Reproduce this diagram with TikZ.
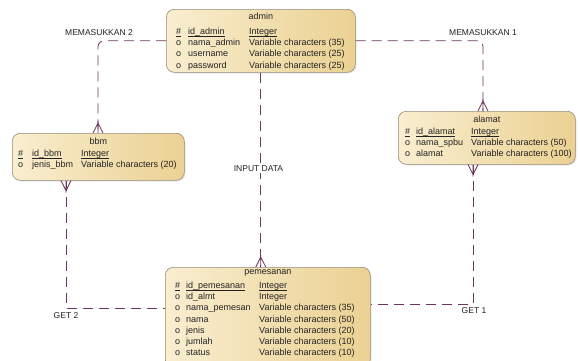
\documentclass[tikz,border=0pt]{standalone}
\usepackage{fontspec}
\setmainfont{Liberation Sans}
\usetikzlibrary{calc,shadows}
\definecolor{relc}{RGB}{110,55,95}
\definecolor{boxl}{RGB}{249,238,208}
\definecolor{boxr}{RGB}{235,209,146}
\definecolor{boxd}{RGB}{150,140,120}
\definecolor{txt}{RGB}{35,35,35}
\newcommand\crowN[1]{\draw[crowl] ($(#1)+(0,-10)$) -- ($(#1)+(-5,0)$) ($(#1)+(0,-10)$) -- ($(#1)+(5,0)$) ($(#1)+(0,-12)$) -- (#1);}
\newcommand\crowS[1]{\draw[crowl] ($(#1)+(0,10)$) -- ($(#1)+(-5,0)$) ($(#1)+(0,10)$) -- ($(#1)+(5,0)$) ($(#1)+(0,12)$) -- (#1);}
\newcommand\keyul[1]{\leavevmode\setbox0\hbox{#1}\rlap{\rule[-2.2pt]{\wd0}{0.55pt}}\box0}
\begin{document}
\begin{tikzpicture}[x=1pt,y=-1pt,
  erbox/.style={draw=boxd, line width=0.6pt, rounded corners=8pt, left color=boxl, right color=boxr,
    anchor=north west, inner sep=0pt, drop shadow={opacity=0.18, shadow xshift=1.2pt, shadow yshift=-1.2pt}},
  erttl/.style={inner sep=0pt, text=txt, font=\fontsize{9}{11}\selectfont},
  ertab/.style={anchor=north west, inner sep=0pt, text=txt, font=\fontsize{9}{11.2}\selectfont},
  rel/.style={draw=relc, line width=0.8pt, dash pattern=on 10pt off 6pt},
  crowl/.style={draw=relc, line width=0.8pt},
  lbl/.style={inner sep=1pt, text=txt, font=\fontsize{8.5}{10}\selectfont}]
\useasboundingbox (0,0) rectangle (580,360);
\fill[white] (0,0) rectangle (580,360);

% boxes
\node[erbox, minimum width=189pt, minimum height=63pt] (admin) at (166,9) {};
\node[erbox, minimum width=172pt, minimum height=47pt] (bbm) at (12,133) {};
\node[erbox, minimum width=177pt, minimum height=53pt] (alamat) at (398,111) {};
\node[erbox, minimum width=205pt, minimum height=100pt] (pemesanan) at (165,267) {};

% titles
\node[erttl] (adminT) at ($(admin.north)+(0,7)$) {admin};
\node[erttl] (bbmT) at ($(bbm.north)+(0,8)$) {bbm};
\node[erttl] (alamatT) at ($(alamat.north)+(0,8)$) {alamat};
\node[erttl] (pemesananT) at ($(pemesanan.north)+(0,6)$) {pemesanan};

% tables
\node[ertab] (adminC) at (176,26.4) {\begin{tabular}{@{}p{12pt}@{}p{61pt}@{}l@{}}
\keyul{\#} & \keyul{id\_admin} & \keyul{Integer}\\
o & nama\_admin & Variable characters (35)\\
o & username & Variable characters (25)\\
o & password & Variable characters (25)
\end{tabular}};
\node[ertab] (bbmC) at (18,148.4) {\begin{tabular}{@{}p{14pt}@{}p{49pt}@{}l@{}}
\keyul{\#} & \keyul{id\_bbm} & \keyul{Integer}\\
o & jenis\_bbm & Variable characters (20)
\end{tabular}};
\node[ertab] (alamatC) at (405,126.4) {\begin{tabular}{@{}p{11pt}@{}p{55pt}@{}l@{}}
\keyul{\#} & \keyul{id\_alamat} & \keyul{Integer}\\
o & nama\_spbu & Variable characters (50)\\
o & alamat & Variable characters (100)
\end{tabular}};
\node[ertab] (pemesananC) at (175,280.4) {\begin{tabular}{@{}p{11pt}@{}p{73pt}@{}l@{}}
\keyul{\#} & \keyul{id\_pemesanan} & \keyul{Integer}\\
o & id\_almt & Integer\\
o & nama\_pemesan & Variable characters (35)\\
o & nama & Variable characters (50)\\
o & jenis & Variable characters (20)\\
o & jumlah & Variable characters (10)\\
o & status & Variable characters (10)
\end{tabular}};

% connector end points
\coordinate (m2) at ($(bbm.north west)+(86,0)$);
\coordinate (m1) at ($(alamat.north west)+(85,0)$);
\coordinate (inp) at (admin.south |- pemesanan.north);
\coordinate (g2a) at ($(bbm.south west)+(54,0)$);
\coordinate (g2b) at ($(pemesanan.north west)+(0,41)$);
\coordinate (g1a) at ($(alamat.south west)+(75,0)$);
\coordinate (g1b) at ($(pemesanan.north east)+(0,37)$);

% connectors
\draw[rel, rounded corners=6pt] (admin.west) -| (m2);
\draw[rel, rounded corners=6pt] (admin.east) -| (m1);
\draw[rel] (admin.south) -- (inp);
\draw[rel] (g2a) |- (g2b);
\draw[rel] (g1a) |- (g1b);

% crow's feet
\crowN{m2}
\crowN{m1}
\crowN{inp}
\crowS{g2a}
\crowS{g1a}

% labels
\node[lbl] (lm2) at (99,33) {MEMASUKKAN 2};
\node[lbl] (lm1) at (483,33) {MEMASUKKAN 1};
\node[lbl, fill=white] (lin) at (258.5,169) {INPUT DATA};
\node[lbl] (lg2) at (66,316) {GET 2};
\node[lbl] (lg1) at (474,311) {GET 1};
\end{tikzpicture}
\end{document}
